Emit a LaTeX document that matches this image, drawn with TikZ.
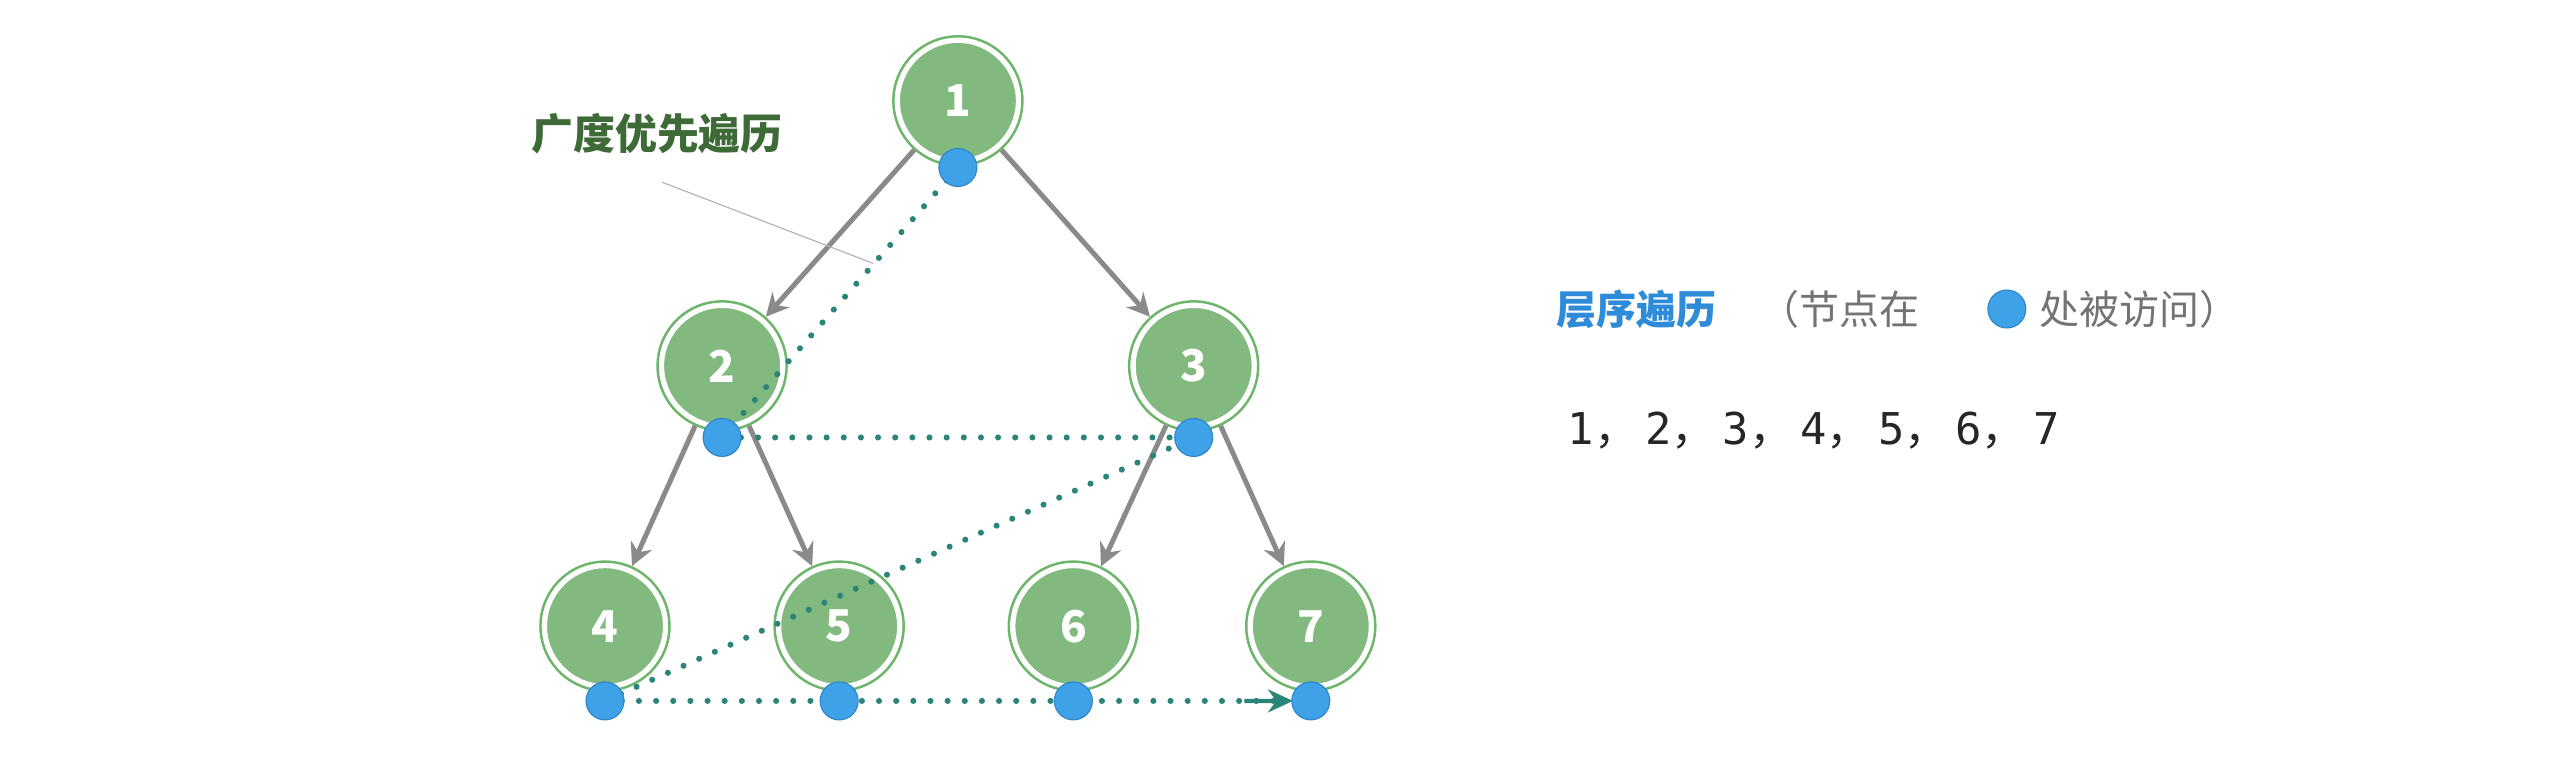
\documentclass[tikz,border=0pt]{standalone}
\usepackage{fontspec}
\setmainfont{Noto Sans CJK SC}
\newfontfamily\cjk{Noto Sans CJK SC}
\newfontfamily\monof{DejaVu Sans Mono}
\usetikzlibrary{arrows.meta,calc}
\definecolor{nodefill}{HTML}{82B97F}
\definecolor{noderim}{HTML}{6DB56A}
\definecolor{dotblue}{HTML}{3FA2E8}
\definecolor{dotedge}{HTML}{2F86C8}
\definecolor{trail}{HTML}{2A8578}
\definecolor{edgegrey}{HTML}{8A8A8A}
\definecolor{darkgreen}{HTML}{3E6A37}
\definecolor{tblue}{HTML}{2E8BD8}
\begin{document}
\begin{tikzpicture}[x=0.03cm,y=-0.03cm,
  rim/.style={circle,minimum size=2.38cm,inner sep=0pt,draw=noderim,line width=1.3pt},
  tnode/.style={circle,minimum size=2.2cm,inner sep=0pt,fill=nodefill,draw=white,line width=1.8pt,
    text=white,font=\fontsize{23}{23}\selectfont\bfseries},
  vis/.style={circle,minimum size=0.7cm,inner sep=0pt,fill=dotblue,draw=dotedge,line width=0.6pt},
  edge/.style={draw=edgegrey,line width=2.6pt,-{Stealth[length=12pt,width=12pt,inset=4pt]}},
  trailst/.style={draw=trail,line width=3.2pt,dash pattern=on 0pt off 9pt,line cap=round}]
\useasboundingbox (0,0) rectangle (1568,473.5);
\foreach \n/\x/\y in {1/589/62,2/444/225,3/734/225,4/372/385,5/516/385,6/660/385,7/806/385}{
  \node[rim] (r\n) at (\x,\y) {};
}
\draw[edge] (r1) -- (r2);
\draw[edge] (r1) -- (r3);
\draw[edge] (r2) -- (r4);
\draw[edge] (r2) -- (r5);
\draw[edge] (r3) -- (r6);
\draw[edge] (r3) -- (r7);
\foreach \n/\x/\y in {1/589/62,2/444/225,3/734/225,4/372/385,5/516/385,6/660/385,7/806/385}{
  \node[tnode] (n\n) at (\x,\y) {\n};
}
\node[font=\fontsize{22}{22}\selectfont\bfseries,text=darkgreen] (lab) at (404,82) {广度优先遍历};
\coordinate (pa) at (407,112);
\coordinate (pb) at (537,162);
\draw[black!30,line width=0.6pt] (pa) -- (pb);
\coordinate (d1) at (589,103);
\coordinate (d2) at (444,269);
\coordinate (d3) at (734,269);
\coordinate (d4) at (372,431);
\coordinate (d5) at (516,431);
\coordinate (d6) at (660,431);
\coordinate (d7) at (806,431);
\draw[trailst] (d1) -- (d2) -- (d3) -- (d4) -- (d5) -- (d6) -- ($(d7)+(-16,0)$);
\draw[trail,line width=2.2pt,-{Stealth[length=13pt,width=12pt]}] ($(d6)!0.72!(d7)$) -- ($(d7)+(-11,0)$);
\foreach \n in {1,...,7}{ \node[vis] (v\n) at (d\n) {}; }
\node[anchor=west,font=\fontsize{21}{21}\selectfont\bfseries,text=tblue] (t1) at (953,190) {层序遍历};
\node[anchor=west,font=\fontsize{21}{21}\selectfont,text=black!55] (t2) at (1078,190) {（节点在};
\node[vis] (tv) at (1234,190) {};
\node[anchor=west,font=\fontsize{21}{21}\selectfont,text=black!55] (t3) at (1250,190) {处被访问）};
\node[anchor=west,font=\fontsize{23}{23}\selectfont,text=black!85] (seq) at (960,265)
  {\monof 1\cjk，\monof\,2\cjk，\monof\,3\cjk，\monof\,4\cjk，\monof\,5\cjk，\monof\,6\cjk，\monof\,7};
\end{tikzpicture}
\end{document}
